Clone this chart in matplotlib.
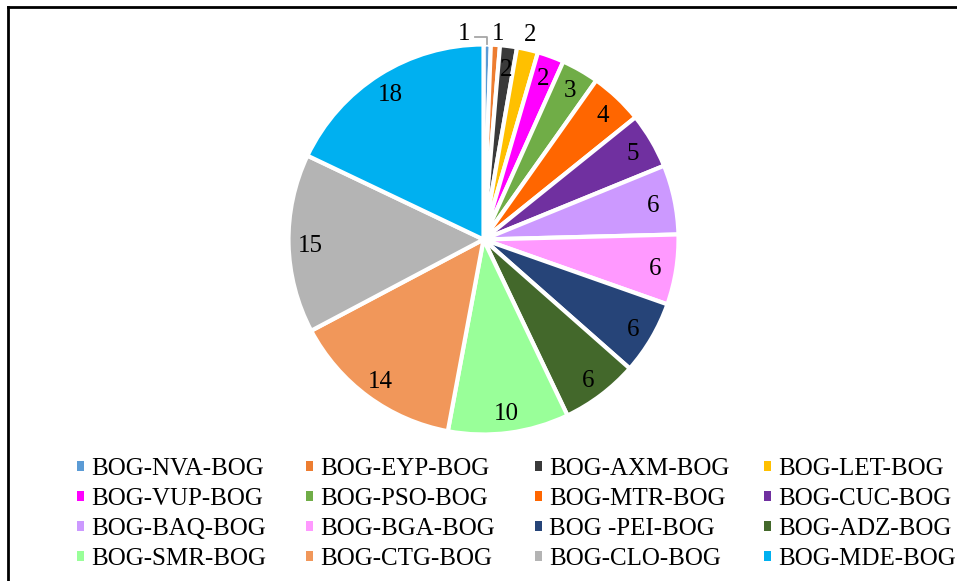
import numpy as np
import matplotlib.pyplot as plt
from matplotlib.patches import Patch
from matplotlib.lines import Line2D

plt.rcParams['font.family'] = ['Liberation Serif', 'DejaVu Serif']

routes = ['BOG-NVA-BOG', 'BOG-EYP-BOG', 'BOG-AXM-BOG', 'BOG-LET-BOG',
          'BOG-VUP-BOG', 'BOG-PSO-BOG', 'BOG-MTR-BOG', 'BOG-CUC-BOG',
          'BOG-BAQ-BOG', 'BOG-BGA-BOG', 'BOG -PEI-BOG', 'BOG-ADZ-BOG',
          'BOG-SMR-BOG', 'BOG-CTG-BOG', 'BOG-CLO-BOG', 'BOG-MDE-BOG']
# slice sizes (share, %)
shares = [0.6, 0.75, 1.4, 1.75, 2.2, 3.1, 4.4, 4.6, 5.75, 5.8, 6.1, 6.4,
          10.0, 14.3, 14.8, 17.9]
# printed labels
labels = ['1', '1', '2', '2', '2', '3', '4', '5', '6', '6', '6', '6',
          '10', '14', '15', '18']
colors = ['#5B9BD5', '#ED7D31', '#3A3A3A', '#FFC000', '#FF00FF', '#70AD47',
          '#FF6600', '#7030A0', '#CC99FF', '#FF99FF', '#264478', '#43682B',
          '#99FF99', '#F1975A', '#B4B4B4', '#00B0F0']

W, H = 957, 581
cx, cy, r = 483.5, 239.5, 195

fig = plt.figure(figsize=(W / 100, H / 100), dpi=100)
ax = fig.add_axes([0, 0, 1, 1])

wedges, _ = ax.pie(shares, colors=colors, startangle=90, counterclock=False,
                   wedgeprops=dict(edgecolor='white', linewidth=3))
ax.set_aspect('auto')
ax.set_xlim(-cx / r, (W - cx) / r)
ax.set_ylim(-(H - cy) / r, cy / r)
ax.axis('off')

fs = 18
outside = {0: (-0.099, 1.066), 1: (0.076, 1.066), 3: (0.238, 1.059)}
for i, w in enumerate(wedges):
    if i in outside:
        x, y = outside[i]
    else:
        a = np.deg2rad((w.theta1 + w.theta2) / 2)
        x, y = 0.89 * np.cos(a), 0.89 * np.sin(a)
    ax.text(x, y, labels[i], ha='center', va='center_baseline', fontsize=fs)

# leader line for the smallest slice
a0 = np.deg2rad((wedges[0].theta1 + wedges[0].theta2) / 2)
ex = np.cos(a0)
ax.plot([-0.044, ex, ex], [1.037, 1.037, 1.001], color='#A6A6A6', lw=1.3)

# legend: 4 equal-width columns, row-major order
handles = [Patch(facecolor=c, edgecolor='none') for c in colors]
col_x = [77, 306, 535, 764]
for c in range(4):
    idx = list(range(c, 16, 4))
    leg = fig.legend([handles[i] for i in idx], [routes[i] for i in idx],
                     loc='center left', bbox_to_anchor=(col_x[c] / W, 1 - 514 / H),
                     frameon=False, fontsize=fs, handlelength=0.27,
                     handleheight=0.27, handletextpad=0.3, labelspacing=0.32,
                     borderaxespad=0, borderpad=0)

# outer frame (only left and top edges visible)
fig.add_artist(Line2D([8 / W, 8 / W], [0, 1 - 7 / H], color='black', lw=2))
fig.add_artist(Line2D([8 / W, 1], [1 - 7 / H, 1 - 7 / H], color='black', lw=2))

fig.savefig('out.png', dpi=100)
